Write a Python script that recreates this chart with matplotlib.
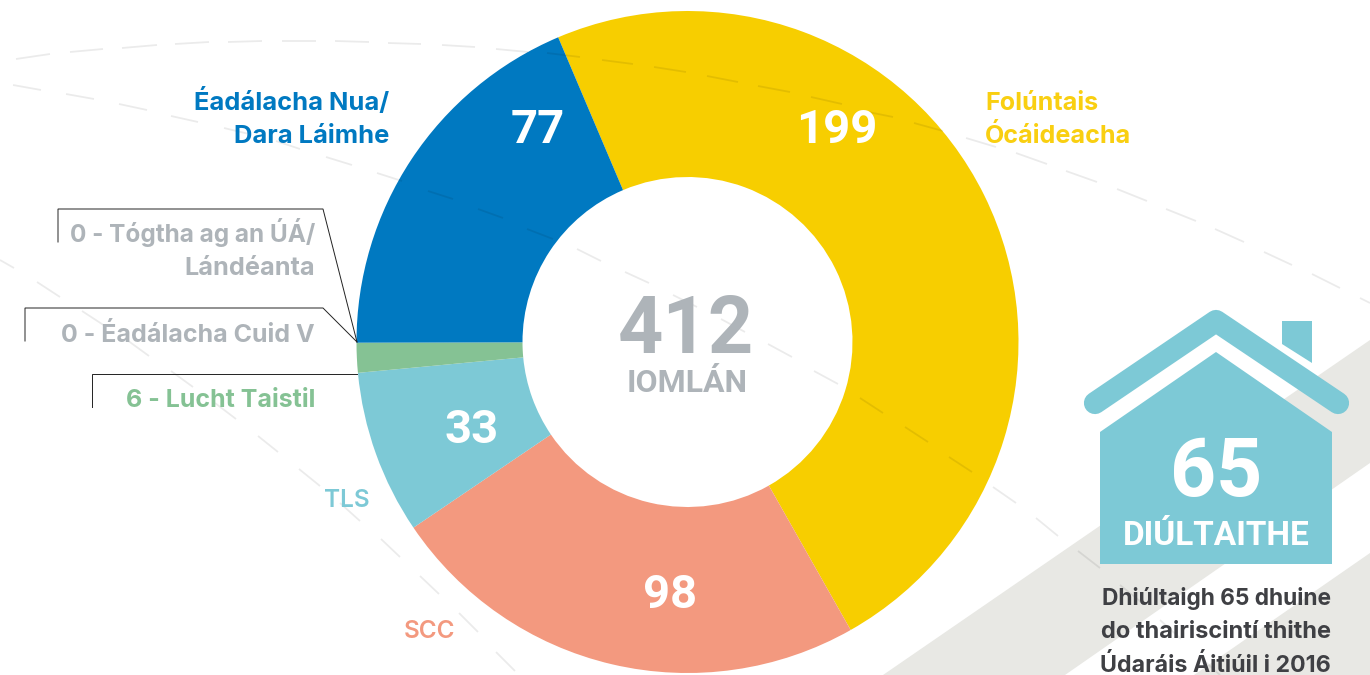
import matplotlib
matplotlib.use("Agg")
import matplotlib.pyplot as plt
from matplotlib.collections import LineCollection
from matplotlib.patches import Polygon

plt.rcParams['font.family'] = ['Inter', 'DejaVu Sans']

# ---- data ----
categories = ['Folúntais Ócáideacha', 'SCC', 'TLS', 'Lucht Taistil', 'Éadálacha Cuid V', 'Tógtha ag an ÚÁ/Lándéanta', 'Éadálacha Nua/Dara Láimhe']
values = [199, 98, 33, 6, 0, 0, 77]
colors = ['#F7CE00', '#F3997F', '#7DC9D6', '#85C294', '#AEB4B9', '#AEB4B9', '#0079C1']
total_label = '412'
refused_label = '65'

GREY = '#AEB4B9'
DARK = '#3F4044'
TEAL = '#7DC9D6'
BAND = '#E8E8E4'

# decorative background, in image pixels (y downward)
band_1 = [(883, 675), (1370, 340), (1370, 463), (1065, 675)]
band_2 = [(1194, 675), (1370, 553), (1370, 675)]
dashes_top = [
    ((16,59),(50,54)),((70,52),(103,49)),((122,48),(157,45)),((175,44),(209,42)),((228,42),(262,41)),
    ((282,41),(316,41)),((335,41),(369,42)),((388,43),(421,44)),((442,45),(475,47)),((496,49),(528,52)),
    ((547,53),(580,57)),((602,60),(633,64)),((654,67),(686,72)),((707,76),(738,82)),((758,86),(790,92)),
    ((811,97),(842,104)),((863,111),(893,117)),((914,123),(943,131)),((966,138),(996,147)),((1016,153),(1047,164)),
    ((1066,171),(1097,182)),((1117,189),(1147,201)),((1166,209),(1196,221)),((1215,229),(1244,242)),
    ((1264,252),(1292,265)),((1312,274),(1340,288)),((1360,298),(1370,303)),
]
dashes_mid = [
    ((13,85),(41,90)),((66,94),(94,99)),((119,104),(147,110)),((171,116),(198,122)),((224,128),(249,134)),
    ((276,141),(300,149)),((326,157),(352,165)),((377,173),(402,181)),((428,191),(453,199)),((478,209),(503,218)),
    ((527,229),(553,239)),((577,249),(601,261)),((625,272),(649,283)),((673,295),(697,307)),((721,319),(745,332)),
    ((768,344),(792,357)),((814,371),(838,384)),((860,398),(883,413)),((905,427),(928,442)),((949,457),(972,472)),
    ((993,487),(1016,503)),((1036,518),(1058,536)),((1078,551),(1100,568)),((1120,585),(1141,602)),
    ((1160,620),(1181,639)),((1201,658),(1220,675)),
]
dashes_low = [
    ((0,260),(14,268)),((37,282),(60,297)),((82,311),(105,326)),((127,340),(149,356)),((171,371),(193,387)),
    ((215,403),(236,419)),((258,436),(278,452)),((299,469),(320,486)),((340,503),(360,521)),((381,539),(400,557)),
    ((420,576),(439,594)),((459,613),(478,632)),((496,652),(515,671)),
]

fig = plt.figure(figsize=(13.7, 6.75), dpi=100, facecolor='white')
ax = fig.add_axes([0, 0, 1, 1])

# y axis is inverted below, so counterclock=True reads clockwise on the image
ax.pie(values, colors=colors, startangle=-113, counterclock=True, center=(687.5, 342), radius=331,
       wedgeprops=dict(width=166, linewidth=0, zorder=2), frame=True)
ax.set_xlim(0, 1370)
ax.set_ylim(675, 0)
ax.set_aspect('auto')
ax.axis('off')

ax.add_patch(Polygon(band_1, closed=True, fc=BAND, ec='none', zorder=0))
ax.add_patch(Polygon(band_2, closed=True, fc=BAND, ec='none', zorder=0))
ax.add_collection(LineCollection(dashes_top + dashes_mid + dashes_low, colors='black', alpha=0.08,
                                 linewidths=1.3, capstyle='butt', zorder=3))

# house
ax.add_patch(Polygon([(1100, 432), (1216, 352), (1332, 432), (1332, 564), (1100, 564)], closed=True, fc=TEAL, ec='none', zorder=4))
ax.add_patch(Polygon([(1282, 321), (1312, 321), (1312, 363), (1282, 344)], closed=True, fc=TEAL, ec='none', zorder=4))
ax.plot([1095, 1216, 1338], [403, 321, 403], color=TEAL, lw=16, solid_capstyle='round', solid_joinstyle='round', zorder=4)

# leader lines
for xs, ys in [([58, 58, 323, 357], [242, 209, 209, 342]),
               ([25, 25, 323, 357], [341, 308, 308, 342]),
               ([92, 92, 357], [407, 374, 374])]:
    ax.plot(xs, ys, color='#222222', lw=0.7, zorder=5, solid_joinstyle='miter')

def T(x, y, s, size, color, ha='center', weight='bold', family=None):
    ax.text(x, y, s, fontsize=size, color=color, ha=ha, va='baseline', fontweight=weight, zorder=6,
            family=family if family else ['Inter', 'DejaVu Sans'])

# slice values
T(538, 143, str(values[6]), 34, 'white', family='Roboto')
T(837, 143, str(values[0]), 34, 'white', family='Roboto')
T(472, 443, str(values[2]), 34, 'white', family='Roboto')
T(670, 608, str(values[1]), 34, 'white', family='Roboto')

# centre
T(686, 353, total_label, 57, GREY, family='Roboto')
T(687, 392, 'IOMLÁN', 23, GREY, family='Roboto')

# category labels
T(389, 110, 'Éadálacha Nua/', 18.4, colors[6], ha='right')
T(389, 143, 'Dara Láimhe', 18.4, colors[6], ha='right')
T(985, 110, 'Folúntais', 18.1, '#F9CF11', ha='left')
T(985, 143, 'Ócáideacha', 18.1, '#F9CF11', ha='left')
T(315, 242, f'{values[5]} - Tógtha ag an ÚÁ/', 17.5, GREY, ha='right')
T(315, 275, 'Lándéanta', 18.2, GREY, ha='right')
T(315, 342, f'{values[4]} - Éadálacha Cuid V', 18, GREY, ha='right')
T(315, 407, f'{values[3]} - Lucht Taistil', 18, colors[3], ha='right')
T(370, 507, 'TLS', 17.5, colors[2], ha='right', weight='semibold')
T(455, 638, 'SCC', 17.5, colors[1], ha='right', weight='semibold')

# house text
T(1216, 496, refused_label, 58, 'white', family='Roboto')
T(1216, 545, 'DIÚLTAITHE', 24, 'white', family='Roboto')
T(1331, 605, 'Dhiúltaigh 65 dhuine', 16.4, DARK, ha='right')
T(1331, 638, 'do thairiscintí thithe', 17, DARK, ha='right')
T(1331, 672, 'Údaráis Áitiúil i 2016', 16.7, DARK, ha='right')

fig.savefig('out.png', dpi=100, facecolor='white')
